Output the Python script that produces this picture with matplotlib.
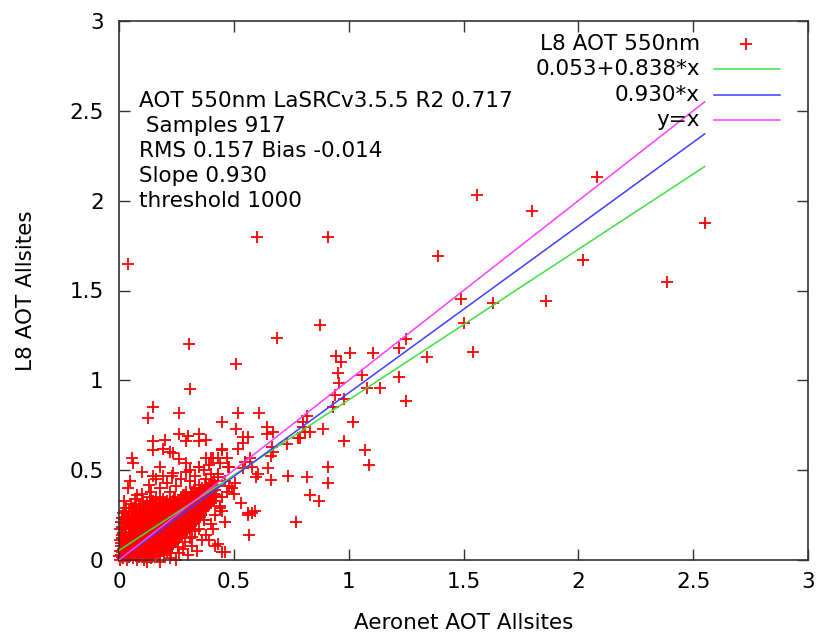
import numpy as np
import matplotlib
matplotlib.use("Agg")
import matplotlib.pyplot as plt

plt.rcParams['font.family'] = ['DejaVu Sans']

# dense cloud near the origin (read as well as the overlap allows)
core_pts = [
    (0.004,0.00),(0.008,0.03),(0.003,0.05),(0.010,0.08),(0.006,0.11),(0.012,0.14),(0.005,0.17),(0.009,0.21),(0.002,0.02),
    (0.018,0.01),(0.022,0.04),(0.016,0.06),(0.024,0.09),(0.020,0.12),(0.017,0.15),(0.025,0.18),(0.021,0.23),(0.019,0.26),
    (0.033,0.00),(0.037,0.03),(0.031,0.05),(0.039,0.08),(0.034,0.11),(0.036,0.13),(0.032,0.17),(0.038,0.20),(0.035,0.24),(0.030,0.29),
    (0.048,0.02),(0.052,0.04),(0.047,0.07),(0.054,0.09),(0.050,0.12),(0.046,0.15),(0.053,0.18),(0.049,0.21),(0.055,0.25),(0.051,0.31),
    (0.063,0.01),(0.067,0.05),(0.061,0.08),(0.069,0.10),(0.064,0.13),(0.066,0.16),(0.062,0.19),(0.068,0.22),(0.065,0.27),(0.070,0.34),
    (0.078,0.00),(0.082,0.03),(0.076,0.06),(0.084,0.09),(0.080,0.12),(0.077,0.14),(0.083,0.17),(0.079,0.20),(0.081,0.24),(0.085,0.28),
    (0.093,0.02),(0.097,0.05),(0.091,0.08),(0.099,0.11),(0.094,0.13),(0.096,0.16),(0.092,0.19),(0.098,0.22),(0.095,0.26),(0.090,0.31),(0.100,0.37),
    (0.108,0.00),(0.112,0.04),(0.106,0.07),(0.114,0.10),(0.110,0.13),(0.107,0.15),(0.113,0.18),(0.109,0.21),(0.111,0.24),(0.115,0.29),
    (0.123,0.03),(0.127,0.06),(0.121,0.09),(0.129,0.12),(0.124,0.14),(0.126,0.17),(0.122,0.20),(0.128,0.23),(0.125,0.27),(0.120,0.32),
    (0.138,0.01),(0.142,0.05),(0.136,0.08),(0.144,0.11),(0.140,0.13),(0.137,0.16),(0.143,0.19),(0.139,0.22),(0.141,0.25),(0.145,0.30),(0.135,0.35),
    (0.153,0.04),(0.157,0.07),(0.151,0.10),(0.159,0.12),(0.154,0.15),(0.156,0.18),(0.152,0.21),(0.158,0.24),(0.155,0.28),(0.150,0.33),
    (0.168,0.02),(0.172,0.06),(0.166,0.09),(0.174,0.12),(0.170,0.14),(0.167,0.17),(0.173,0.20),(0.169,0.23),(0.171,0.26),(0.175,0.31),
    (0.183,0.05),(0.187,0.08),(0.181,0.11),(0.189,0.13),(0.184,0.16),(0.186,0.19),(0.182,0.22),(0.188,0.25),(0.185,0.29),(0.180,0.35),
    (0.198,0.03),(0.202,0.07),(0.196,0.10),(0.204,0.13),(0.200,0.15),(0.197,0.18),(0.203,0.21),(0.199,0.24),(0.201,0.27),(0.205,0.32),
    (0.213,0.06),(0.217,0.09),(0.211,0.12),(0.219,0.15),(0.214,0.17),(0.216,0.20),(0.212,0.23),(0.218,0.26),(0.215,0.30),
    (0.228,0.04),(0.232,0.08),(0.226,0.11),(0.234,0.14),(0.230,0.17),(0.227,0.19),(0.233,0.22),(0.229,0.25),(0.231,0.28),(0.235,0.33),
    (0.243,0.10),(0.247,0.13),(0.241,0.16),(0.249,0.18),(0.244,0.21),(0.246,0.24),(0.242,0.27),(0.248,0.30),(0.245,0.35),
    (0.258,0.07),(0.262,0.12),(0.256,0.15),(0.264,0.18),(0.260,0.20),(0.257,0.23),(0.263,0.26),(0.259,0.29),(0.261,0.32),
    (0.273,0.14),(0.277,0.17),(0.271,0.20),(0.279,0.22),(0.274,0.25),(0.276,0.28),(0.272,0.31),(0.278,0.36),
    (0.288,0.10),(0.292,0.16),(0.286,0.19),(0.294,0.22),(0.290,0.24),(0.287,0.27),(0.293,0.30),(0.289,0.33),(0.291,0.38),
    (0.303,0.18),(0.307,0.21),(0.301,0.24),(0.309,0.26),(0.304,0.29),(0.306,0.32),(0.302,0.35),
    (0.318,0.13),(0.322,0.20),(0.316,0.23),(0.324,0.26),(0.320,0.28),(0.317,0.31),(0.323,0.34),(0.319,0.38),
    (0.333,0.22),(0.337,0.25),(0.331,0.28),(0.339,0.30),(0.334,0.33),(0.336,0.36),(0.332,0.40),
    (0.348,0.17),(0.352,0.24),(0.346,0.27),(0.354,0.30),(0.350,0.32),(0.347,0.35),(0.353,0.38),(0.349,0.42),
    (0.363,0.27),(0.367,0.30),(0.361,0.33),(0.369,0.36),(0.364,0.39),
    (0.378,0.29),(0.382,0.32),(0.376,0.35),(0.384,0.38),(0.380,0.41),(0.377,0.45),
    (0.393,0.31),(0.397,0.35),(0.391,0.38),(0.399,0.42),
    (0.408,0.33),(0.412,0.37),(0.406,0.40),(0.414,0.44),
    (0.423,0.36),(0.427,0.41),(0.430,0.46),
]

# second pass over the cloud, points sitting between the first ones
core_pts_b = [
    (0.011,0.015),(0.014,0.045),(0.009,0.095),(0.013,0.125),(0.015,0.185),(0.011,0.235),
    (0.027,0.025),(0.029,0.070),(0.026,0.105),(0.028,0.140),(0.030,0.200),(0.027,0.270),
    (0.042,0.015),(0.044,0.060),(0.041,0.095),(0.043,0.135),(0.045,0.190),(0.042,0.225),(0.044,0.275),
    (0.057,0.030),(0.059,0.075),(0.056,0.110),(0.058,0.145),(0.060,0.200),(0.057,0.235),(0.059,0.290),
    (0.072,0.020),(0.074,0.070),(0.071,0.115),(0.073,0.150),(0.075,0.185),(0.072,0.230),(0.074,0.260),(0.073,0.300),
    (0.087,0.015),(0.089,0.045),(0.086,0.100),(0.088,0.135),(0.090,0.175),(0.087,0.210),(0.089,0.250),(0.088,0.290),
    (0.102,0.030),(0.104,0.065),(0.101,0.095),(0.103,0.145),(0.105,0.175),(0.102,0.205),(0.104,0.275),(0.106,0.330),
    (0.117,0.020),(0.119,0.055),(0.116,0.115),(0.118,0.165),(0.120,0.195),(0.117,0.225),(0.119,0.255),(0.118,0.300),
    (0.132,0.040),(0.134,0.075),(0.131,0.105),(0.133,0.155),(0.135,0.185),(0.132,0.240),(0.134,0.280),(0.133,0.330),
    (0.147,0.025),(0.149,0.090),(0.146,0.125),(0.148,0.170),(0.150,0.205),(0.147,0.235),(0.149,0.265),(0.148,0.310),
    (0.162,0.055),(0.164,0.085),(0.161,0.135),(0.163,0.165),(0.165,0.195),(0.162,0.250),(0.164,0.290),(0.163,0.340),
    (0.177,0.040),(0.179,0.100),(0.176,0.150),(0.178,0.180),(0.180,0.215),(0.177,0.245),(0.179,0.275),(0.178,0.320),
    (0.192,0.065),(0.194,0.095),(0.191,0.145),(0.193,0.175),(0.195,0.205),(0.192,0.265),(0.194,0.300),(0.193,0.340),
    (0.207,0.050),(0.209,0.110),(0.206,0.160),(0.208,0.190),(0.210,0.225),(0.207,0.255),(0.209,0.285),(0.208,0.330),
    (0.222,0.070),(0.224,0.125),(0.221,0.155),(0.223,0.185),(0.225,0.215),(0.222,0.275),(0.224,0.310),
    (0.237,0.090),(0.239,0.120),(0.236,0.160),(0.238,0.200),(0.240,0.235),(0.237,0.265),(0.239,0.300),(0.238,0.340),
    (0.252,0.115),(0.254,0.145),(0.251,0.175),(0.253,0.220),(0.255,0.250),(0.252,0.280),(0.254,0.320),
    (0.267,0.130),(0.269,0.160),(0.266,0.190),(0.268,0.235),(0.270,0.265),(0.267,0.300),(0.269,0.340),
    (0.282,0.150),(0.284,0.180),(0.281,0.210),(0.283,0.260),(0.285,0.290),(0.282,0.320),(0.284,0.360),
    (0.297,0.170),(0.299,0.200),(0.296,0.230),(0.298,0.280),(0.300,0.310),(0.297,0.340),
    (0.312,0.190),(0.314,0.220),(0.311,0.270),(0.313,0.300),(0.315,0.330),(0.312,0.365),
    (0.327,0.210),(0.329,0.240),(0.326,0.290),(0.328,0.320),(0.330,0.350),(0.327,0.380),
    (0.342,0.230),(0.344,0.260),(0.341,0.310),(0.343,0.340),(0.345,0.370),
    (0.357,0.250),(0.359,0.285),(0.356,0.330),(0.358,0.360),(0.360,0.400),
    (0.372,0.280),(0.374,0.310),(0.371,0.345),(0.373,0.375),(0.375,0.420),
    (0.387,0.300),(0.389,0.340),(0.386,0.370),(0.388,0.400),
    (0.402,0.320),(0.404,0.360),(0.401,0.390),(0.403,0.430),
    (0.417,0.350),(0.419,0.390),(0.416,0.420),
]

# loose points around the cloud
halo_pts = [
    (0.04,0.40),(0.08,0.36),(0.02,0.33),(0.05,0.44),(0.13,0.42),(0.16,0.45),(0.18,0.40),(0.21,0.43),
    (0.23,0.47),(0.25,0.41),(0.27,0.45),(0.29,0.49),(0.31,0.44),(0.33,0.47),(0.14,0.38),(0.22,0.38),
    (0.26,0.04),(0.28,0.06),(0.30,0.03),(0.32,0.08),(0.34,0.05),(0.36,0.11),(0.38,0.14),(0.25,0.00),
    (0.22,0.01),(0.18,-0.01),(0.12,-0.01),(0.31,0.12),(0.33,0.16),(0.40,0.20),(0.42,0.25),(0.44,0.30),
    (0.45,0.35),(0.47,0.38),(0.43,0.48),(0.46,0.44),(0.49,0.40),(0.37,0.50),(0.40,0.48),(0.35,0.52),
    (0.26,0.56),(0.22,0.60),(0.39,0.11),(0.41,0.17),(0.42,0.08),(0.45,0.045),(0.37,0.22),(0.44,0.29),
]

outer_pts = [
    (0.04,1.65),(0.60,1.80),(0.91,1.80),(1.56,2.03),(1.80,1.94),(2.08,2.13),(2.55,1.875),(1.39,1.69),
    (2.385,1.55),(2.02,1.67),(1.86,1.44),(1.49,1.45),(1.50,1.32),(1.63,1.43),(1.54,1.16),(0.875,1.31),
    (0.69,1.235),(0.305,1.20),(0.51,1.09),(0.31,0.95),(1.25,1.23),(1.22,1.18),(1.34,1.13),(1.22,1.02),
    (1.25,0.885),(1.105,1.15),(1.005,1.15),(0.945,1.135),(0.965,1.10),(0.955,1.04),(0.96,0.985),(1.06,1.03),
    (1.08,0.96),(1.135,0.955),(0.98,0.895),(0.94,0.92),(0.93,0.85),(1.02,0.77),(0.98,0.66),(1.07,0.61),
    (1.09,0.53),(0.91,0.52),(0.91,0.43),(0.82,0.46),(0.83,0.36),(0.87,0.33),(0.77,0.21),(0.80,0.77),
    (0.82,0.80),(0.80,0.74),(0.89,0.73),(0.83,0.71),(0.81,0.71),(0.78,0.68),(0.79,0.68),(0.73,0.645),
    (0.735,0.47),(0.66,0.445),(0.65,0.51),(0.66,0.58),(0.645,0.74),(0.645,0.70),(0.67,0.71),(0.61,0.82),
    (0.52,0.82),(0.45,0.77),(0.51,0.73),(0.56,0.685),(0.54,0.685),(0.52,0.62),(0.605,0.48),(0.595,0.46),
    (0.56,0.26),(0.58,0.26),(0.565,0.14),(0.46,0.21),(0.43,0.09),(0.46,0.045),(0.55,0.545),(0.54,0.51),
    (0.505,0.43),(0.50,0.37),(0.53,0.32),(0.48,0.41),(0.38,0.67),(0.40,0.57),(0.35,0.70),(0.35,0.66),
    (0.30,0.69),(0.26,0.70),(0.29,0.66),(0.235,0.595),(0.20,0.67),(0.19,0.62),(0.15,0.66),(0.15,0.61),
    (0.10,0.49),(0.057,0.57),(0.06,0.54),(0.29,0.54),(0.31,0.50),(0.18,0.52),(0.15,0.47),(0.19,0.47),
    (0.235,0.485),(0.35,0.52),(0.38,0.57),(0.41,0.57),(0.45,0.62),(0.47,0.57),(0.475,0.52),(0.15,0.85),
    (0.125,0.79),(0.26,0.82),(0.665,0.63),(0.67,0.60),(0.57,0.57),(0.54,0.65),(0.43,0.57),(0.44,0.54),
    (0.48,0.52),(0.58,0.52),(0.39,0.53),(0.45,0.61),(0.59,0.27),(0.56,0.25),(0.37,0.22),(0.45,0.27),
]

all_pts = core_pts + core_pts_b + halo_pts + outer_pts
aeronet_aot = np.array([p[0] for p in all_pts])
l8_aot = np.array([p[1] for p in all_pts])

fit_intercept, fit_slope = 0.053, 0.838
origin_slope = 0.930

stats_lines = ["AOT 550nm LaSRCv3.5.5 R2 0.717", " Samples 917", "RMS 0.157 Bias -0.014",
               "Slope 0.930", "threshold 1000"]
legend_labels = ["L8 AOT 550nm", "0.053+0.838*x", "0.930*x", "y=x"]
ticks = [0, 0.5, 1, 1.5, 2, 2.5, 3]
tick_labels = ["0", "0.5", "1", "1.5", "2", "2.5", "3"]

red = '#ff0000'
green = '#3fe03f'
blue = '#3f3fff'
magenta = '#ff3fff'
fs = 15.5

fig = plt.figure(figsize=(8.19, 6.36), dpi=100)
ax = fig.add_axes([119/819, 76/636, 689/819, 539/636])

ax.plot(aeronet_aot, l8_aot, '+', color=red, ms=9, mew=1.3, clip_on=False, zorder=2)

xs = np.array([0, aeronet_aot.max()])
ax.plot(xs, fit_intercept + fit_slope * xs, color=green, lw=1.1, zorder=3)
ax.plot(xs, origin_slope * xs, color=blue, lw=1.1, zorder=3)
ax.plot(xs, xs, color=magenta, lw=1.1, zorder=3)

ax.set_xlim(0, 3)
ax.set_ylim(0, 3)
ax.set_xticks(ticks)
ax.set_xticklabels(tick_labels)
ax.set_yticks(ticks)
ax.set_yticklabels(tick_labels)
ax.tick_params(direction='in', length=8, width=1, top=True, right=True,
               labelsize=fs, color='#333333')
ax.tick_params(axis='y', pad=11)
ax.tick_params(axis='x', pad=9)
for sp in ax.spines.values():
    sp.set_linewidth(1.2)
    sp.set_color('#333333')

ax.set_xlabel('Aeronet AOT Allsites', fontsize=fs, labelpad=15)
ax.set_ylabel('L8 AOT Allsites', fontsize=fs, labelpad=24)

# stats block
for i, s in enumerate(stats_lines):
    ax.text(0.029, 0.852 - i * 0.0465, s, transform=ax.transAxes, fontsize=fs,
            ha='left', va='center')

# legend (gnuplot style: right-aligned labels, samples on the right)
leg_y = [0.957, 0.911, 0.863, 0.816]
for i, lab in enumerate(legend_labels):
    ax.text(0.843, leg_y[i], lab, transform=ax.transAxes, fontsize=fs, ha='right', va='center')
ax.plot([0.910], [leg_y[0]], '+', color=red, ms=9, mew=1.3, transform=ax.transAxes)
for c, yy in zip([green, blue, magenta], leg_y[1:]):
    ax.plot([0.8636, 0.9594], [yy, yy], color=c, lw=1.1, transform=ax.transAxes)

fig.savefig('out.png', dpi=100)
